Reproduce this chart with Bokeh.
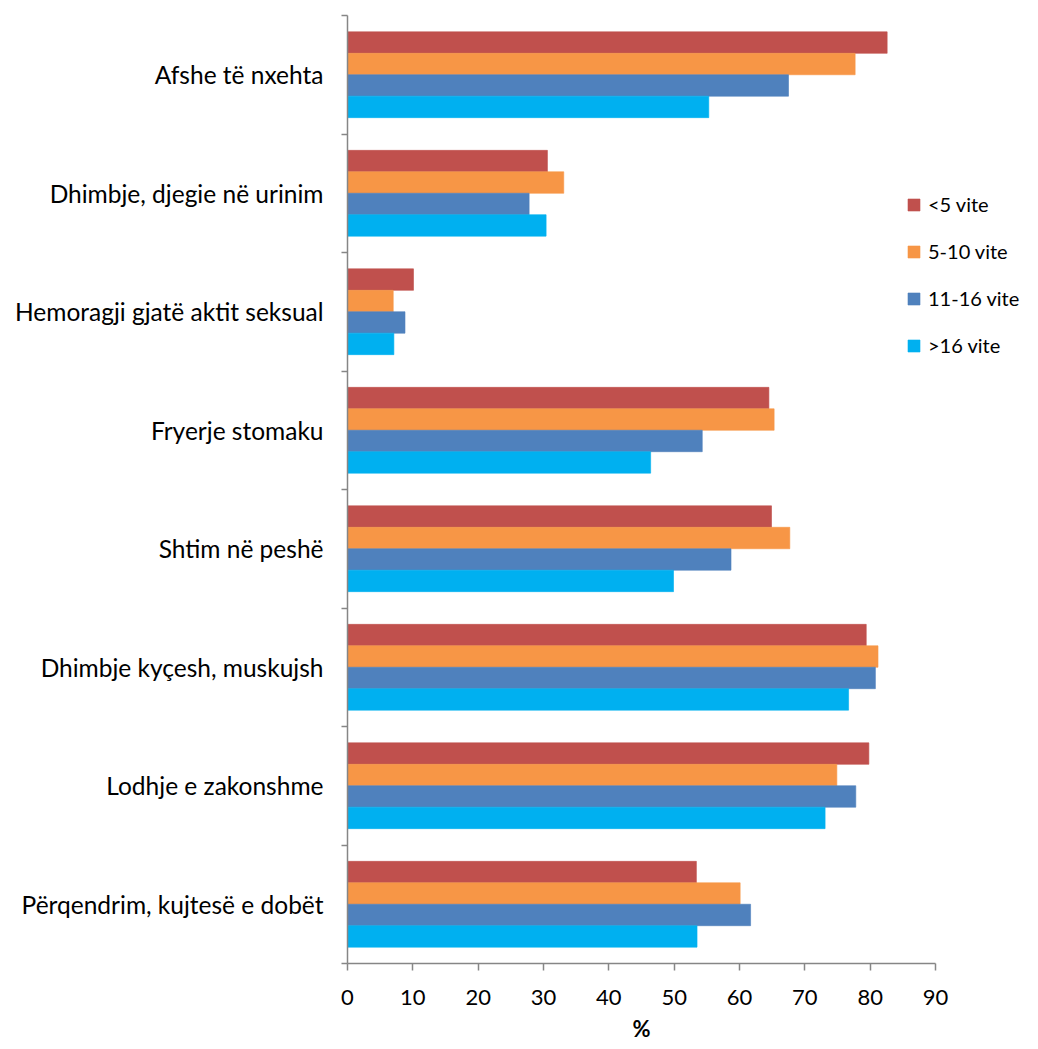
import numpy as np
from bokeh.plotting import figure
from bokeh.models import Range1d, FixedTicker, Legend, LegendItem, ColumnDataSource, Title
from bokeh.embed import file_html
from bokeh.resources import INLINE

categories = [
    "Afshe të nxehta",
    "Dhimbje, djegie në urinim",
    "Hemoragji gjatë aktit seksual",
    "Fryerje stomaku",
    "Shtim në peshë",
    "Dhimbje kyçesh, muskujsh",
    "Lodhje e zakonshme",
    "Përqendrim, kujtesë e dobët",
]
series_names = ["<5 vite", "5-10 vite", "11-16 vite", ">16 vite"]
lt5 = [82.6, 30.6, 10.1, 64.5, 64.9, 79.4, 79.8, 53.4]
v5_10 = [77.7, 33.1, 7.0, 65.3, 67.7, 81.2, 74.9, 60.1]
v11_16 = [67.5, 27.8, 8.8, 54.3, 58.7, 80.8, 77.8, 61.7]
gt16 = [55.3, 30.4, 7.1, 46.4, 49.9, 76.7, 73.1, 53.5]
series_values = [lt5, v5_10, v11_16, gt16]
colors = ["#C0504D", "#F79646", "#4F81BD", "#00B0F0"]
x_ticks = list(range(0, 100, 10))
x_max = 90

FONT = "Lato"
n = len(categories)
centers = np.array([n - 1 - i for i in range(n)], dtype=float)
bar_h = 0.181
offsets = [1.5 * bar_h, 0.5 * bar_h, -0.5 * bar_h, -1.5 * bar_h]

W, H = 1022, 1046
left, top, right_b, bottom = 347, 15, 0, 81
frame_w = W - left - right_b
axis_px = 588  # pixels covered by 0..90
range_end = x_max * frame_w / axis_px

p = figure(width=W, height=H, output_backend="svg", toolbar_location=None,
           x_range=Range1d(0, range_end), y_range=Range1d(-0.5, n - 0.5),
           min_border_left=left, min_border_top=top, min_border_right=right_b,
           min_border_bottom=bottom)
p.outline_line_color = None
p.xgrid.visible = False
p.ygrid.visible = False

renderers = []
for vals, col, off in zip(series_values, colors, offsets):
    src = ColumnDataSource(dict(y=centers + off, right=vals))
    r = p.hbar(y="y", left=0, right="right", height=bar_h, source=src,
               fill_color=col, line_color=col, line_alpha=0.6)
    renderers.append(r)

# x axis
xa = p.xaxis[0]
xa.bounds = (0, x_max)
xa.ticker = FixedTicker(ticks=x_ticks)
xa.axis_line_color = "#868686"
xa.axis_line_width = 1.5
xa.major_tick_line_color = "#868686"
xa.major_tick_line_width = 1.5
xa.major_tick_out = 7
xa.major_tick_in = 0
xa.minor_tick_line_color = None
xa.major_label_text_font = FONT
xa.major_label_text_font_size = "22px"
xa.major_label_text_color = "#000000"
xa.major_label_standoff = 19

# "%" label centred under the 0..90 axis (left-aligned title with pixel offset)
pct_offset = axis_px / 2 - 9
p.add_layout(Title(text="%", align="left", offset=pct_offset, standoff=10,
                   text_font=FONT, text_font_size="22px", text_font_style="bold",
                   text_color="#000000"), "below")

# y axis: labels at centers, tick marks at category boundaries
ya = p.yaxis[0]
boundaries = [k - 0.5 for k in range(n + 1)]
ya.ticker = FixedTicker(ticks=list(centers), minor_ticks=boundaries)
ya.major_label_overrides = {float(c): categories[i] for i, c in enumerate(centers)}
ya.axis_line_color = "#868686"
ya.axis_line_width = 1.5
ya.major_tick_line_color = None
ya.minor_tick_line_color = "#868686"
ya.minor_tick_line_width = 1.5
ya.minor_tick_out = 6
ya.minor_tick_in = 0
ya.major_label_text_font = FONT
ya.major_label_text_font_size = "24.5px"
ya.major_label_text_color = "#000000"
ya.major_label_standoff = 18

legend = Legend(items=[LegendItem(label=nm, renderers=[r]) for nm, r in zip(series_names, renderers)],
                location=(559, 606), orientation="vertical",
                glyph_width=15, glyph_height=15, label_height=15, spacing=23,
                label_standoff=7, padding=0, margin=0,
                label_text_font=FONT, label_text_font_size="20px",
                label_text_color="#000000", border_line_color=None,
                background_fill_alpha=0)
p.add_layout(legend, "center")

open("out.html", "w").write(file_html(p, INLINE))
